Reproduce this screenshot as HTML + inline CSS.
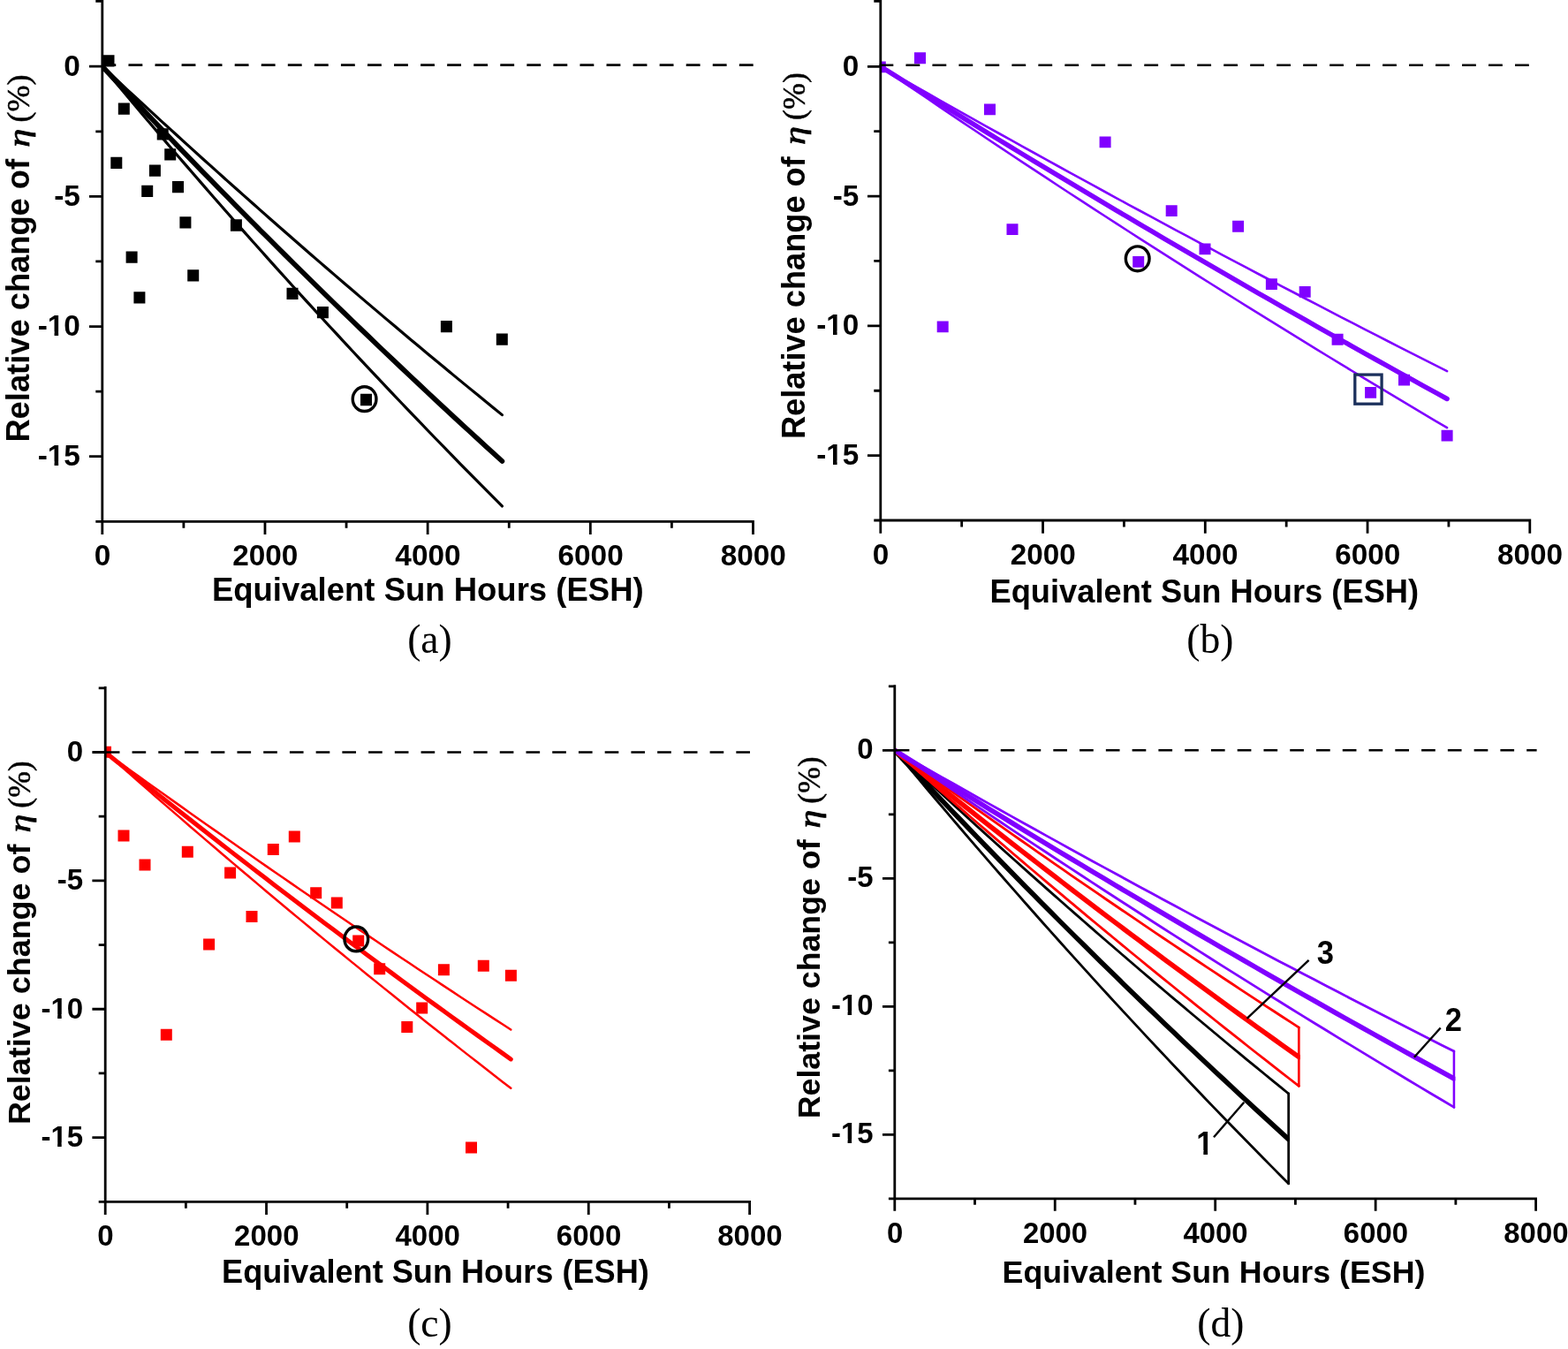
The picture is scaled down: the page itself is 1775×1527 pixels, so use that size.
<!DOCTYPE html>
<html lang="en"><head><meta charset="utf-8"><title>Relative change of efficiency vs Equivalent Sun Hours</title>
<style>
html,body{margin:0;padding:0;background:#fff;}
body{width:1775px;height:1527px;overflow:hidden;}
svg{display:block;position:absolute;left:0;top:0;}
.ax{stroke:#000;stroke-width:2.8;fill:none;stroke-linecap:butt}
.dash{stroke:#000;stroke-width:2.6;fill:none}
.tl{font-family:"Liberation Sans",sans-serif;font-weight:700;fill:#000}
.at{font-family:"Liberation Sans",sans-serif;font-weight:700;fill:#000}
.eta{font-family:"Liberation Serif",serif;font-style:italic;font-weight:400;font-size:38.5px;fill:#000;stroke:#000;stroke-width:0.9px}
.pct{font-family:"Liberation Serif",serif;font-style:normal;font-weight:400;font-size:36px;fill:#000;stroke:#000;stroke-width:0.5px}
.pl{font-family:"Liberation Serif",serif;font-size:45.6px;fill:#000}
.nl{font-family:"Liberation Sans",sans-serif;font-weight:700;fill:#000}
</style></head><body>
<svg width="1775" height="1527" viewBox="0 0 1775 1527">
<rect width="1775" height="1527" fill="#fff"/>
<g id="panel-a">
<clipPath id="clip-a"><rect x="115.8" y="-2" width="766.7" height="592.3"/></clipPath><g clip-path="url(#clip-a)">
<path d="M116.5 62.15h13v13.3h-13zM133.8 116.45h13v13.3h-13zM177.7 145.25h13v13.3h-13zM186.2 168.25h13v13.3h-13zM125.3 177.65h13v13.3h-13zM168.9 186.45h13v13.3h-13zM160.2 209.75h13v13.3h-13zM195 205.05h13v13.3h-13zM203.4 245.25h13v13.3h-13zM260.9 248.35h13v13.3h-13zM142.6 284.45h13v13.3h-13zM212.2 305.15h13v13.3h-13zM151.4 330.15h13v13.3h-13zM324.5 325.75h13v13.3h-13zM358.9 347.05h13v13.3h-13zM498.9 362.95h13v13.3h-13zM561.8 377.45h13v13.3h-13zM408 445.85h13v13.3h-13z" fill="#000"/>
<path d="M115.8 75.2L125.23 84.01L134.66 92.79L144.09 101.55L153.52 110.28L162.95 118.98L172.38 127.66L181.81 136.31L191.24 144.94L200.66 153.54L210.09 162.11L219.52 170.66L228.95 179.19L238.38 187.68L247.81 196.16L257.24 204.6L266.67 213.03L276.1 221.42L285.53 229.79L294.96 238.14L304.39 246.46L313.82 254.76L323.25 263.03L332.68 271.28L342.11 279.5L351.53 287.7L360.96 295.87L370.39 304.02L379.82 312.14L389.25 320.24L398.68 328.32L408.11 336.37L417.54 344.4L426.97 352.4L436.4 360.38L445.83 368.34L455.26 376.27L464.69 384.18L474.12 392.06L483.55 399.92L492.98 407.76L502.4 415.57L511.83 423.36L521.26 431.13L530.69 438.87L540.12 446.6L549.55 454.29L558.98 461.97L568.41 469.62" stroke="#000" stroke-width="3.2" fill="none" stroke-linecap="round" stroke-linejoin="round"/>
<path d="M115.8 75.2L125.23 86.54L134.66 97.83L144.09 109.08L153.52 120.29L162.95 131.45L172.38 142.57L181.81 153.65L191.24 164.69L200.66 175.68L210.09 186.63L219.52 197.54L228.95 208.41L238.38 219.23L247.81 230.01L257.24 240.75L266.67 251.45L276.1 262.11L285.53 272.73L294.96 283.31L304.39 293.84L313.82 304.34L323.25 314.79L332.68 325.21L342.11 335.58L351.53 345.92L360.96 356.21L370.39 366.47L379.82 376.68L389.25 386.86L398.68 397L408.11 407.1L417.54 417.16L426.97 427.18L436.4 437.16L445.83 447.1L455.26 457.01L464.69 466.87L474.12 476.7L483.55 486.49L492.98 496.25L502.4 505.96L511.83 515.64L521.26 525.28L530.69 534.89L540.12 544.45L549.55 553.98L558.98 563.48L568.41 572.93" stroke="#000" stroke-width="3.2" fill="none" stroke-linecap="round" stroke-linejoin="round"/>
<path d="M115.8 75.2L125.23 85.28L134.66 95.32L144.09 105.33L153.52 115.31L162.95 125.25L172.38 135.16L181.81 145.03L191.24 154.87L200.66 164.67L210.09 174.45L219.52 184.19L228.95 193.89L238.38 203.56L247.81 213.2L257.24 222.81L266.67 232.38L276.1 241.92L285.53 251.43L294.96 260.9L304.39 270.35L313.82 279.76L323.25 289.14L332.68 298.48L342.11 307.8L351.53 317.08L360.96 326.33L370.39 335.55L379.82 344.73L389.25 353.89L398.68 363.01L408.11 372.11L417.54 381.17L426.97 390.2L436.4 399.2L445.83 408.17L455.26 417.11L464.69 426.02L474.12 434.89L483.55 443.74L492.98 452.56L502.4 461.34L511.83 470.1L521.26 478.83L530.69 487.52L540.12 496.19L549.55 504.83L558.98 513.43L568.41 522.01" stroke="#000" stroke-width="5.7" fill="none" stroke-linecap="round" stroke-linejoin="round"/>
</g>
<path d="M115.4 73.6H853.5" class="dash" stroke-dasharray="15.84 14.22"/>
<path d="M115.8 0V590.3M108.3 590.3H853.9M101 75.2H115.8M101 222.37H115.8M101 369.54H115.8M101 516.71H115.8M108.3 1.3H117.2M108.3 148.79H115.8M108.3 295.96H115.8M108.3 443.13H115.8M115.8 590.3V605.1M299.98 590.3V605.1M484.15 590.3V605.1M668.32 590.3V605.1M852.5 590.3V605.1M207.89 590.3V597.8M392.06 590.3V597.8M576.24 590.3V597.8M760.41 590.3V597.8" class="ax"/>
<ellipse cx="412.6" cy="451.65" rx="13.35" ry="13.9" fill="none" stroke="#000" stroke-width="3.4"/>
<g>
<g transform="translate(116.1 640.1) scale(0.985 1)"><text x="0" y="0" class="tl" font-size="33.9" text-anchor="middle">0</text></g>
<g transform="translate(300.28 640.1) scale(0.985 1)"><text x="0" y="0" class="tl" font-size="33.9" text-anchor="middle">2000</text></g>
<g transform="translate(484.45 640.1) scale(0.985 1)"><text x="0" y="0" class="tl" font-size="33.9" text-anchor="middle">4000</text></g>
<g transform="translate(668.62 640.1) scale(0.985 1)"><text x="0" y="0" class="tl" font-size="33.9" text-anchor="middle">6000</text></g>
<g transform="translate(852.8 640.1) scale(0.985 1)"><text x="0" y="0" class="tl" font-size="33.9" text-anchor="middle">8000</text></g>
<g transform="translate(90.9 85.7) scale(0.985 1)"><text x="0" y="0" class="tl" font-size="33.9" text-anchor="end">0</text></g>
<g transform="translate(90.9 232.87) scale(0.985 1)"><text x="0" y="0" class="tl" font-size="33.9" text-anchor="end">-5</text></g>
<g transform="translate(90.9 380.04) scale(0.985 1)"><clipPath id="nofoot1"><path clip-rule="evenodd" d="M-69 -40.68H20V16.95H-69ZM-37.07 -4.66H-29.79V2H-37.07ZM-25.14 -4.66H-18.6V2H-25.14Z"/></clipPath><text x="0" y="0" class="tl" font-size="33.9" text-anchor="end" clip-path="url(#nofoot1)">-10</text></g>
<g transform="translate(90.9 527.21) scale(0.985 1)"><clipPath id="nofoot2"><path clip-rule="evenodd" d="M-69 -40.68H20V16.95H-69ZM-37.07 -4.66H-29.79V2H-37.07ZM-25.14 -4.66H-18.6V2H-25.14Z"/></clipPath><text x="0" y="0" class="tl" font-size="33.9" text-anchor="end" clip-path="url(#nofoot2)">-15</text></g>
</g>
<text x="484.3" y="679.6" class="at" font-size="36.5" text-anchor="middle">Equivalent Sun Hours (ESH)</text>
<g transform="translate(32.5 500.6) rotate(-90) scale(1.0000)"><text x="0" y="0" class="at" font-size="36.3">Relative change of</text><text transform="translate(333.8 0.1) scale(1.1 0.87)" class="eta">η</text><text x="362" y="0" class="pct">(%)</text></g>
<text x="486.5" y="738.5" class="pl" text-anchor="middle">(a)</text>
</g>
<g id="panel-b">
<clipPath id="clip-b"><rect x="996.8" y="-2" width="765" height="591"/></clipPath><g clip-path="url(#clip-b)">
<path d="M989.8 69.45h13v12.8h-13zM1035 59.35h13v12.8h-13zM1114 117.55h13v12.8h-13zM1244.6 154.55h13v12.8h-13zM1139.5 253.25h13v12.8h-13zM1319.7 232.25h13v12.8h-13zM1395.1 249.85h13v12.8h-13zM1357.5 275.55h13v12.8h-13zM1282.2 290.05h13v12.8h-13zM1432.9 315.15h13v12.8h-13zM1060.7 363.45h13v12.8h-13zM1470.7 323.95h13v12.8h-13zM1507.6 377.85h13v12.8h-13zM1583 423.75h13v12.8h-13zM1545.1 437.95h13v12.8h-13zM1631.6 486.65h13v12.8h-13z" fill="#8000ff"/>
<path d="M996.8 75.3L1010.16 82.93L1023.52 90.55L1036.88 98.14L1050.24 105.72L1063.6 113.27L1076.96 120.81L1090.32 128.32L1103.68 135.82L1117.04 143.3L1130.4 150.75L1143.76 158.19L1157.12 165.61L1170.48 173.01L1183.84 180.39L1197.2 187.75L1210.56 195.09L1223.92 202.42L1237.28 209.72L1250.64 217L1264 224.27L1277.36 231.52L1290.72 238.74L1304.08 245.95L1317.44 253.14L1330.8 260.32L1344.16 267.47L1357.52 274.6L1370.88 281.72L1384.24 288.82L1397.6 295.89L1410.96 302.96L1424.32 310L1437.69 317.02L1451.05 324.03L1464.41 331.01L1477.77 337.98L1491.13 344.93L1504.49 351.87L1517.85 358.78L1531.21 365.68L1544.57 372.56L1557.93 379.42L1571.29 386.26L1584.65 393.09L1598.01 399.9L1611.37 406.69L1624.73 413.46L1638.09 420.21" stroke="#8000ff" stroke-width="2.6" fill="none" stroke-linecap="round" stroke-linejoin="round"/>
<path d="M996.8 75.3L1010.16 84.46L1023.52 93.59L1036.88 102.69L1050.24 111.77L1063.6 120.81L1076.96 129.83L1090.32 138.82L1103.68 147.78L1117.04 156.71L1130.4 165.62L1143.76 174.5L1157.12 183.35L1170.48 192.17L1183.84 200.96L1197.2 209.73L1210.56 218.47L1223.92 227.18L1237.28 235.87L1250.64 244.53L1264 253.16L1277.36 261.76L1290.72 270.34L1304.08 278.89L1317.44 287.42L1330.8 295.91L1344.16 304.39L1357.52 312.83L1370.88 321.25L1384.24 329.64L1397.6 338.01L1410.96 346.35L1424.32 354.66L1437.69 362.95L1451.05 371.21L1464.41 379.45L1477.77 387.66L1491.13 395.84L1504.49 404L1517.85 412.13L1531.21 420.24L1544.57 428.33L1557.93 436.38L1571.29 444.42L1584.65 452.42L1598.01 460.41L1611.37 468.36L1624.73 476.3L1638.09 484.21" stroke="#8000ff" stroke-width="2.6" fill="none" stroke-linecap="round" stroke-linejoin="round"/>
<path d="M996.8 75.3L1010.16 83.67L1023.52 92.03L1036.88 100.35L1050.24 108.66L1063.6 116.94L1076.96 125.19L1090.32 133.42L1103.68 141.63L1117.04 149.82L1130.4 157.98L1143.76 166.12L1157.12 174.23L1170.48 182.33L1183.84 190.4L1197.2 198.44L1210.56 206.47L1223.92 214.47L1237.28 222.44L1250.64 230.4L1264 238.33L1277.36 246.24L1290.72 254.13L1304.08 261.99L1317.44 269.83L1330.8 277.65L1344.16 285.45L1357.52 293.23L1370.88 300.98L1384.24 308.71L1397.6 316.42L1410.96 324.1L1424.32 331.77L1437.69 339.41L1451.05 347.03L1464.41 354.63L1477.77 362.21L1491.13 369.77L1504.49 377.3L1517.85 384.81L1531.21 392.31L1544.57 399.78L1557.93 407.23L1571.29 414.65L1584.65 422.06L1598.01 429.45L1611.37 436.81L1624.73 444.15L1638.09 451.48" stroke="#8000ff" stroke-width="5.5" fill="none" stroke-linecap="round" stroke-linejoin="round"/>
</g>
<path d="M995.5 73.8H1732.8" class="dash" stroke-dasharray="15.8 14.18"/>
<path d="M996.8 0V589M989.3 589H1733.2M982 75.3H996.8M982 222.07H996.8M982 368.84H996.8M982 515.61H996.8M989.3 1.3H998.2M989.3 148.69H996.8M989.3 295.46H996.8M989.3 442.23H996.8M996.8 589V603.8M1180.55 589V603.8M1364.3 589V603.8M1548.05 589V603.8M1731.8 589V603.8M1088.67 589V596.5M1272.42 589V596.5M1456.17 589V596.5M1639.92 589V596.5" class="ax"/>
<ellipse cx="1287.7" cy="292.8" rx="13.35" ry="13.9" fill="none" stroke="#000" stroke-width="3.4"/>
<rect x="1533.8" y="424.1" width="30.3" height="33.1" fill="none" stroke="#1b305c" stroke-width="3.3"/>
<g>
<g transform="translate(997.1 639.1) scale(0.985 1)"><text x="0" y="0" class="tl" font-size="33.82" text-anchor="middle">0</text></g>
<g transform="translate(1180.85 639.1) scale(0.985 1)"><text x="0" y="0" class="tl" font-size="33.82" text-anchor="middle">2000</text></g>
<g transform="translate(1364.6 639.1) scale(0.985 1)"><text x="0" y="0" class="tl" font-size="33.82" text-anchor="middle">4000</text></g>
<g transform="translate(1548.35 639.1) scale(0.985 1)"><text x="0" y="0" class="tl" font-size="33.82" text-anchor="middle">6000</text></g>
<g transform="translate(1732.1 639.1) scale(0.985 1)"><text x="0" y="0" class="tl" font-size="33.82" text-anchor="middle">8000</text></g>
<g transform="translate(972.3 85.8) scale(0.985 1)"><text x="0" y="0" class="tl" font-size="33.82" text-anchor="end">0</text></g>
<g transform="translate(972.3 232.57) scale(0.985 1)"><text x="0" y="0" class="tl" font-size="33.82" text-anchor="end">-5</text></g>
<g transform="translate(972.3 379.34) scale(0.985 1)"><clipPath id="nofoot3"><path clip-rule="evenodd" d="M-68.88 -40.59H20V16.91H-68.88ZM-36.99 -4.65H-29.73V2H-36.99ZM-25.09 -4.65H-18.55V2H-25.09Z"/></clipPath><text x="0" y="0" class="tl" font-size="33.82" text-anchor="end" clip-path="url(#nofoot3)">-10</text></g>
<g transform="translate(972.3 526.11) scale(0.985 1)"><clipPath id="nofoot4"><path clip-rule="evenodd" d="M-68.88 -40.59H20V16.91H-68.88ZM-36.99 -4.65H-29.73V2H-36.99ZM-25.09 -4.65H-18.55V2H-25.09Z"/></clipPath><text x="0" y="0" class="tl" font-size="33.82" text-anchor="end" clip-path="url(#nofoot4)">-15</text></g>
</g>
<text x="1363.3" y="681.5" class="at" font-size="36.27" text-anchor="middle">Equivalent Sun Hours (ESH)</text>
<g transform="translate(910.6 497.1) rotate(-90) scale(0.9977)"><text x="0" y="0" class="at" font-size="36.3">Relative change of</text><text transform="translate(333.8 0.1) scale(1.1 0.87)" class="eta">η</text><text x="362" y="0" class="pct">(%)</text></g>
<text x="1369.9" y="738.5" class="pl" text-anchor="middle">(b)</text>
</g>
<g id="panel-c">
<clipPath id="clip-c"><rect x="119.2" y="775.1" width="759.4" height="585.2"/></clipPath><g clip-path="url(#clip-c)">
<path d="M113 844.8h13v13.0h-13zM133.5 939.4h13v13.0h-13zM157.5 972.6h13v13.0h-13zM205.8 957.7h13v13.0h-13zM254.1 981.4h13v13.0h-13zM230.1 1062.5h13v13.0h-13zM278.5 1031.1h13v13.0h-13zM302.8 955h13v13.0h-13zM326.8 940.5h13v13.0h-13zM351.2 1004.3h13v13.0h-13zM374.8 1015.5h13v13.0h-13zM399.2 1058.4h13v13.0h-13zM423.2 1090.2h13v13.0h-13zM495.9 1091.2h13v13.0h-13zM540.8 1086.8h13v13.0h-13zM571.9 1097.7h13v13.0h-13zM471.2 1134.5h13v13.0h-13zM454.3 1156h13v13.0h-13zM181.8 1164.8h13v13.0h-13zM527 1292.6h13v13.0h-13z" fill="#ff0000"/>
<path d="M119.2 851.5L128.76 858.41L138.33 865.31L147.89 872.19L157.46 879.06L167.02 885.91L176.58 892.74L186.15 899.56L195.71 906.36L205.27 913.14L214.84 919.91L224.4 926.66L233.97 933.4L243.53 940.12L253.09 946.82L262.66 953.51L272.22 960.18L281.79 966.84L291.35 973.48L300.91 980.1L310.48 986.71L320.04 993.3L329.61 999.88L339.17 1006.44L348.73 1012.99L358.3 1019.52L367.86 1026.03L377.42 1032.53L386.99 1039.01L396.55 1045.48L406.12 1051.94L415.68 1058.37L425.24 1064.8L434.81 1071.2L444.37 1077.6L453.94 1083.97L463.5 1090.33L473.06 1096.68L482.63 1103.01L492.19 1109.33L501.76 1115.63L511.32 1121.91L520.88 1128.19L530.45 1134.44L540.01 1140.68L549.57 1146.91L559.14 1153.12L568.7 1159.32L578.27 1165.5" stroke="#ff0000" stroke-width="2.5" fill="none" stroke-linecap="round" stroke-linejoin="round"/>
<path d="M119.2 851.5L128.76 859.98L138.33 868.43L147.89 876.86L157.46 885.27L167.02 893.65L176.58 902L186.15 910.33L195.71 918.64L205.27 926.92L214.84 935.18L224.4 943.42L233.97 951.63L243.53 959.81L253.09 967.98L262.66 976.12L272.22 984.23L281.79 992.32L291.35 1000.39L300.91 1008.44L310.48 1016.46L320.04 1024.45L329.61 1032.43L339.17 1040.38L348.73 1048.31L358.3 1056.21L367.86 1064.09L377.42 1071.95L386.99 1079.79L396.55 1087.6L406.12 1095.39L415.68 1103.16L425.24 1110.9L434.81 1118.63L444.37 1126.32L453.94 1134L463.5 1141.66L473.06 1149.29L482.63 1156.9L492.19 1164.49L501.76 1172.05L511.32 1179.6L520.88 1187.12L530.45 1194.62L540.01 1202.1L549.57 1209.55L559.14 1216.99L568.7 1224.4L578.27 1231.79" stroke="#ff0000" stroke-width="2.5" fill="none" stroke-linecap="round" stroke-linejoin="round"/>
<path d="M119.2 851.5L128.76 859.2L138.33 866.88L147.89 874.53L157.46 882.17L167.02 889.79L176.58 897.39L186.15 904.96L195.71 912.52L205.27 920.06L214.84 927.57L224.4 935.07L233.97 942.55L243.53 950.01L253.09 957.44L262.66 964.86L272.22 972.26L281.79 979.64L291.35 987L300.91 994.34L310.48 1001.66L320.04 1008.96L329.61 1016.24L339.17 1023.5L348.73 1030.74L358.3 1037.97L367.86 1045.17L377.42 1052.36L386.99 1059.52L396.55 1066.67L406.12 1073.8L415.68 1080.91L425.24 1088L434.81 1095.07L444.37 1102.13L453.94 1109.16L463.5 1116.18L473.06 1123.18L482.63 1130.16L492.19 1137.12L501.76 1144.06L511.32 1150.98L520.88 1157.89L530.45 1164.77L540.01 1171.64L549.57 1178.49L559.14 1185.33L568.7 1192.14L578.27 1198.94" stroke="#ff0000" stroke-width="5.0" fill="none" stroke-linecap="round" stroke-linejoin="round"/>
</g>
<path d="M119.8 851.5H849.6" class="dash" stroke-dasharray="15.67 14.06"/>
<path d="M119.2 777.1V1360.3M111.7 1360.3H850M104.4 851.5H119.2M104.4 996.87H119.2M104.4 1142.24H119.2M104.4 1287.61H119.2M111.7 778.81H120.6M111.7 924.19H119.2M111.7 1069.56H119.2M111.7 1214.93H119.2M119.2 1360.3V1375.1M301.55 1360.3V1375.1M483.9 1360.3V1375.1M666.25 1360.3V1375.1M848.6 1360.3V1375.1M210.38 1360.3V1367.8M392.72 1360.3V1367.8M575.07 1360.3V1367.8M757.42 1360.3V1367.8" class="ax"/>
<ellipse cx="403.3" cy="1062.9" rx="13.35" ry="13.9" fill="none" stroke="#000" stroke-width="3.4"/>
<g>
<g transform="translate(119.5 1410.1) scale(0.985 1)"><text x="0" y="0" class="tl" font-size="33.56" text-anchor="middle">0</text></g>
<g transform="translate(301.85 1410.1) scale(0.985 1)"><text x="0" y="0" class="tl" font-size="33.56" text-anchor="middle">2000</text></g>
<g transform="translate(484.2 1410.1) scale(0.985 1)"><text x="0" y="0" class="tl" font-size="33.56" text-anchor="middle">4000</text></g>
<g transform="translate(666.55 1410.1) scale(0.985 1)"><text x="0" y="0" class="tl" font-size="33.56" text-anchor="middle">6000</text></g>
<g transform="translate(848.9 1410.1) scale(0.985 1)"><text x="0" y="0" class="tl" font-size="33.56" text-anchor="middle">8000</text></g>
<g transform="translate(94.2 862) scale(0.985 1)"><text x="0" y="0" class="tl" font-size="33.56" text-anchor="end">0</text></g>
<g transform="translate(94.2 1007.37) scale(0.985 1)"><text x="0" y="0" class="tl" font-size="33.56" text-anchor="end">-5</text></g>
<g transform="translate(94.2 1152.74) scale(0.985 1)"><clipPath id="nofoot5"><path clip-rule="evenodd" d="M-68.51 -40.28H20V16.78H-68.51ZM-36.72 -4.63H-29.5V2H-36.72ZM-24.89 -4.63H-18.4V2H-24.89Z"/></clipPath><text x="0" y="0" class="tl" font-size="33.56" text-anchor="end" clip-path="url(#nofoot5)">-10</text></g>
<g transform="translate(94.2 1298.11) scale(0.985 1)"><clipPath id="nofoot6"><path clip-rule="evenodd" d="M-68.51 -40.28H20V16.78H-68.51ZM-36.72 -4.63H-29.5V2H-36.72ZM-24.89 -4.63H-18.4V2H-24.89Z"/></clipPath><text x="0" y="0" class="tl" font-size="33.56" text-anchor="end" clip-path="url(#nofoot6)">-15</text></g>
</g>
<text x="492.9" y="1452.2" class="at" font-size="36.14" text-anchor="middle">Equivalent Sun Hours (ESH)</text>
<g transform="translate(33.5 1273.1) rotate(-90) scale(0.9901)"><text x="0" y="0" class="at" font-size="36.3">Relative change of</text><text transform="translate(333.8 0.1) scale(1.1 0.87)" class="eta">η</text><text x="362" y="0" class="pct">(%)</text></g>
<text x="486.5" y="1512.8" class="pl" text-anchor="middle">(c)</text>
</g>
<g id="panel-d">
<clipPath id="clip-d0"><rect x="1012.8" y="775.3" width="447.31" height="581.6"/></clipPath>
<g clip-path="url(#clip-d0)">
<path d="M1012.8 849.3L1022.09 857.98L1031.38 866.64L1040.67 875.26L1049.96 883.87L1059.25 892.45L1068.54 901L1077.83 909.52L1087.12 918.02L1096.41 926.5L1105.7 934.95L1114.99 943.37L1124.28 951.77L1133.57 960.15L1142.86 968.5L1152.15 976.82L1161.44 985.12L1170.73 993.39L1180.02 1001.64L1189.31 1009.87L1198.6 1018.07L1207.89 1026.24L1217.18 1034.4L1226.47 1042.52L1235.76 1050.63L1245.05 1058.7L1254.34 1066.76L1263.63 1074.79L1272.92 1082.79L1282.21 1090.78L1291.5 1098.73L1300.79 1106.67L1310.08 1114.58L1319.37 1122.47L1328.66 1130.33L1337.95 1138.17L1347.24 1145.99L1356.52 1153.78L1365.81 1161.55L1375.1 1169.29L1384.39 1177.02L1393.68 1184.72L1402.97 1192.39L1412.26 1200.05L1421.55 1207.68L1430.84 1215.29L1440.13 1222.87L1449.42 1230.44L1458.71 1237.98" stroke="#000" stroke-width="2.8" fill="none" stroke-linecap="round" stroke-linejoin="round"/>
<path d="M1012.8 849.3L1022.09 860.47L1031.38 871.6L1040.67 882.69L1049.96 893.73L1059.25 904.73L1068.54 915.69L1077.83 926.61L1087.12 937.48L1096.41 948.32L1105.7 959.11L1114.99 969.86L1124.28 980.57L1133.57 991.23L1142.86 1001.86L1152.15 1012.44L1161.44 1022.99L1170.73 1033.49L1180.02 1043.96L1189.31 1054.38L1198.6 1064.76L1207.89 1075.1L1217.18 1085.41L1226.47 1095.67L1235.76 1105.89L1245.05 1116.08L1254.34 1126.22L1263.63 1136.33L1272.92 1146.39L1282.21 1156.42L1291.5 1166.41L1300.79 1176.36L1310.08 1186.28L1319.37 1196.15L1328.66 1205.99L1337.95 1215.79L1347.24 1225.55L1356.52 1235.27L1365.81 1244.96L1375.1 1254.6L1384.39 1264.22L1393.68 1273.79L1402.97 1283.33L1412.26 1292.83L1421.55 1302.29L1430.84 1311.72L1440.13 1321.11L1449.42 1330.47L1458.71 1339.79" stroke="#000" stroke-width="2.8" fill="none" stroke-linecap="round" stroke-linejoin="round"/>
<path d="M1012.8 849.3L1022.09 859.23L1031.38 869.13L1040.67 878.99L1049.96 888.82L1059.25 898.62L1068.54 908.38L1077.83 918.11L1087.12 927.81L1096.41 937.47L1105.7 947.1L1114.99 956.7L1124.28 966.26L1133.57 975.79L1142.86 985.29L1152.15 994.76L1161.44 1004.19L1170.73 1013.59L1180.02 1022.96L1189.31 1032.3L1198.6 1041.61L1207.89 1050.88L1217.18 1060.12L1226.47 1069.33L1235.76 1078.51L1245.05 1087.66L1254.34 1096.77L1263.63 1105.86L1272.92 1114.91L1282.21 1123.93L1291.5 1132.92L1300.79 1141.88L1310.08 1150.81L1319.37 1159.71L1328.66 1168.58L1337.95 1177.42L1347.24 1186.23L1356.52 1195.01L1365.81 1203.76L1375.1 1212.47L1384.39 1221.16L1393.68 1229.82L1402.97 1238.45L1412.26 1247.05L1421.55 1255.62L1430.84 1264.16L1440.13 1272.67L1449.42 1281.15L1458.71 1289.61" stroke="#000" stroke-width="5.6" fill="none" stroke-linecap="round" stroke-linejoin="round"/>
<path d="M1458.71 1237.98V1339.79" stroke="#000" stroke-width="2.8" fill="none" stroke-linecap="round"/>
</g>
<clipPath id="clip-d1"><rect x="1012.8" y="775.3" width="459.02" height="581.6"/></clipPath>
<g clip-path="url(#clip-d1)">
<path d="M1012.8 849.3L1022.33 856.21L1031.87 863.11L1041.4 869.98L1050.93 876.85L1060.47 883.69L1070 890.52L1079.54 897.33L1089.07 904.13L1098.6 910.91L1108.14 917.68L1117.67 924.42L1127.2 931.16L1136.74 937.87L1146.27 944.57L1155.81 951.26L1165.34 957.92L1174.87 964.58L1184.41 971.21L1193.94 977.83L1203.47 984.44L1213.01 991.03L1222.54 997.6L1232.07 1004.16L1241.61 1010.7L1251.14 1017.23L1260.68 1023.74L1270.21 1030.23L1279.74 1036.71L1289.28 1043.18L1298.81 1049.63L1308.34 1056.06L1317.88 1062.48L1327.41 1068.88L1336.95 1075.27L1346.48 1081.64L1356.01 1088L1365.55 1094.34L1375.08 1100.67L1384.61 1106.98L1394.15 1113.28L1403.68 1119.56L1413.21 1125.83L1422.75 1132.08L1432.28 1138.32L1441.82 1144.54L1451.35 1150.75L1460.88 1156.94L1470.42 1163.12" stroke="#ff0000" stroke-width="2.8" fill="none" stroke-linecap="round" stroke-linejoin="round"/>
<path d="M1012.8 849.3L1022.33 857.77L1031.87 866.22L1041.4 874.65L1050.93 883.05L1060.47 891.43L1070 899.78L1079.54 908.11L1089.07 916.41L1098.6 924.69L1108.14 932.94L1117.67 941.17L1127.2 949.38L1136.74 957.56L1146.27 965.72L1155.81 973.86L1165.34 981.97L1174.87 990.05L1184.41 998.12L1193.94 1006.16L1203.47 1014.17L1213.01 1022.17L1222.54 1030.14L1232.07 1038.08L1241.61 1046.01L1251.14 1053.91L1260.68 1061.78L1270.21 1069.64L1279.74 1077.47L1289.28 1085.28L1298.81 1093.06L1308.34 1100.82L1317.88 1108.56L1327.41 1116.28L1336.95 1123.98L1346.48 1131.65L1356.01 1139.3L1365.55 1146.93L1375.08 1154.53L1384.61 1162.11L1394.15 1169.68L1403.68 1177.21L1413.21 1184.73L1422.75 1192.23L1432.28 1199.7L1441.82 1207.15L1451.35 1214.58L1460.88 1221.99L1470.42 1229.37" stroke="#ff0000" stroke-width="2.8" fill="none" stroke-linecap="round" stroke-linejoin="round"/>
<path d="M1012.8 849.3L1022.33 856.99L1031.87 864.67L1041.4 872.32L1050.93 879.96L1060.47 887.57L1070 895.16L1079.54 902.74L1089.07 910.29L1098.6 917.82L1108.14 925.34L1117.67 932.83L1127.2 940.3L1136.74 947.76L1146.27 955.19L1155.81 962.6L1165.34 970L1174.87 977.37L1184.41 984.73L1193.94 992.06L1203.47 999.38L1213.01 1006.68L1222.54 1013.95L1232.07 1021.21L1241.61 1028.45L1251.14 1035.67L1260.68 1042.87L1270.21 1050.05L1279.74 1057.22L1289.28 1064.36L1298.81 1071.48L1308.34 1078.59L1317.88 1085.68L1327.41 1092.74L1336.95 1099.79L1346.48 1106.82L1356.01 1113.83L1365.55 1120.83L1375.08 1127.8L1384.61 1134.76L1394.15 1141.7L1403.68 1148.61L1413.21 1155.52L1422.75 1162.4L1432.28 1169.26L1441.82 1176.11L1451.35 1182.94L1460.88 1189.75L1470.42 1196.54" stroke="#ff0000" stroke-width="5.6" fill="none" stroke-linecap="round" stroke-linejoin="round"/>
<path d="M1470.42 1163.12V1229.37" stroke="#ff0000" stroke-width="2.8" fill="none" stroke-linecap="round"/>
</g>
<clipPath id="clip-d2"><rect x="1012.8" y="775.3" width="634.66" height="581.6"/></clipPath>
<g clip-path="url(#clip-d2)">
<path d="M1012.8 849.3L1025.99 856.84L1039.19 864.37L1052.38 871.87L1065.57 879.36L1078.76 886.82L1091.96 894.27L1105.15 901.69L1118.34 909.1L1131.54 916.49L1144.73 923.86L1157.92 931.21L1171.12 938.54L1184.31 945.85L1197.5 953.14L1210.69 960.42L1223.89 967.67L1237.08 974.91L1250.27 982.12L1263.47 989.32L1276.66 996.5L1289.85 1003.66L1303.04 1010.8L1316.24 1017.93L1329.43 1025.03L1342.62 1032.12L1355.82 1039.19L1369.01 1046.24L1382.2 1053.27L1395.39 1060.28L1408.59 1067.28L1421.78 1074.25L1434.97 1081.21L1448.17 1088.15L1461.36 1095.07L1474.55 1101.98L1487.75 1108.86L1500.94 1115.73L1514.13 1122.58L1527.32 1129.42L1540.52 1136.23L1553.71 1143.03L1566.9 1149.81L1580.1 1156.57L1593.29 1163.31L1606.48 1170.04L1619.67 1176.75L1632.87 1183.44L1646.06 1190.12" stroke="#8000ff" stroke-width="2.8" fill="none" stroke-linecap="round" stroke-linejoin="round"/>
<path d="M1012.8 849.3L1025.99 858.35L1039.19 867.37L1052.38 876.37L1065.57 885.33L1078.76 894.27L1091.96 903.18L1105.15 912.06L1118.34 920.92L1131.54 929.75L1144.73 938.55L1157.92 947.32L1171.12 956.06L1184.31 964.78L1197.5 973.47L1210.69 982.13L1223.89 990.77L1237.08 999.38L1250.27 1007.96L1263.47 1016.52L1276.66 1025.05L1289.85 1033.55L1303.04 1042.03L1316.24 1050.47L1329.43 1058.9L1342.62 1067.29L1355.82 1075.66L1369.01 1084.01L1382.2 1092.33L1395.39 1100.62L1408.59 1108.89L1421.78 1117.13L1434.97 1125.34L1448.17 1133.53L1461.36 1141.7L1474.55 1149.83L1487.75 1157.95L1500.94 1166.03L1514.13 1174.1L1527.32 1182.13L1540.52 1190.15L1553.71 1198.13L1566.9 1206.1L1580.1 1214.03L1593.29 1221.95L1606.48 1229.83L1619.67 1237.7L1632.87 1245.54L1646.06 1253.35" stroke="#8000ff" stroke-width="2.8" fill="none" stroke-linecap="round" stroke-linejoin="round"/>
<path d="M1012.8 849.3L1025.99 857.58L1039.19 865.83L1052.38 874.05L1065.57 882.26L1078.76 890.44L1091.96 898.6L1105.15 906.73L1118.34 914.84L1131.54 922.93L1144.73 931L1157.92 939.04L1171.12 947.06L1184.31 955.06L1197.5 963.03L1210.69 970.98L1223.89 978.91L1237.08 986.81L1250.27 994.7L1263.47 1002.56L1276.66 1010.39L1289.85 1018.21L1303.04 1026L1316.24 1033.77L1329.43 1041.52L1342.62 1049.25L1355.82 1056.96L1369.01 1064.64L1382.2 1072.3L1395.39 1079.94L1408.59 1087.55L1421.78 1095.15L1434.97 1102.72L1448.17 1110.28L1461.36 1117.81L1474.55 1125.32L1487.75 1132.8L1500.94 1140.27L1514.13 1147.72L1527.32 1155.14L1540.52 1162.54L1553.71 1169.92L1566.9 1177.28L1580.1 1184.62L1593.29 1191.94L1606.48 1199.24L1619.67 1206.52L1632.87 1213.77L1646.06 1221.01" stroke="#8000ff" stroke-width="5.6" fill="none" stroke-linecap="round" stroke-linejoin="round"/>
<path d="M1646.06 1190.12V1253.35" stroke="#8000ff" stroke-width="2.8" fill="none" stroke-linecap="round"/>
</g>
<path d="M1013.7 849.3H1739.6" class="dash" stroke-dasharray="15.69 14.08"/>
<path d="M1012.8 775.3V1356.9M1005.9 1356.9H1740M999 849.3H1012.8M999 994.33H1012.8M999 1139.36H1012.8M999 1284.39H1012.8M1005.9 776.79H1014.2M1005.9 921.81H1012.8M1005.9 1066.84H1012.8M1005.9 1211.87H1012.8M1012.8 1356.9V1370.7M1194.25 1356.9V1370.7M1375.7 1356.9V1370.7M1557.15 1356.9V1370.7M1738.6 1356.9V1370.7M1103.52 1356.9V1363.8M1284.97 1356.9V1363.8M1466.42 1356.9V1363.8M1647.88 1356.9V1363.8" class="ax"/>
<path d="M1411.6 1152.8L1481.6 1086.9M1600.9 1196.8L1630.7 1163.5M1408.3 1247.7L1374 1287.2" stroke="#000" stroke-width="2.4" fill="none"/>
<g transform="translate(1500.4 1091.0) scale(0.95 1)"><text x="0" y="0" class="nl" font-size="36.4" text-anchor="middle">3</text></g>
<g transform="translate(1645.4 1167.4) scale(0.95 1)"><text x="0" y="0" class="nl" font-size="36.4" text-anchor="middle">2</text></g>
<g transform="translate(1363.9 1307.0) scale(0.95 1)"><clipPath id="nofoot7"><path clip-rule="evenodd" d="M-30.12 -43.68H30.12V18.2H-30.12ZM-9.33 -4.91H-1.63V2H-9.33ZM3.37 -4.91H10.31V2H3.37Z"/></clipPath><text x="0" y="0" class="nl" font-size="36.4" text-anchor="middle" clip-path="url(#nofoot7)">1</text></g>
<g>
<g transform="translate(1013.1 1406.6) scale(0.985 1)"><text x="0" y="0" class="tl" font-size="33.4" text-anchor="middle">0</text></g>
<g transform="translate(1194.55 1406.6) scale(0.985 1)"><text x="0" y="0" class="tl" font-size="33.4" text-anchor="middle">2000</text></g>
<g transform="translate(1376 1406.6) scale(0.985 1)"><text x="0" y="0" class="tl" font-size="33.4" text-anchor="middle">4000</text></g>
<g transform="translate(1557.45 1406.6) scale(0.985 1)"><text x="0" y="0" class="tl" font-size="33.4" text-anchor="middle">6000</text></g>
<g transform="translate(1738.9 1406.6) scale(0.985 1)"><text x="0" y="0" class="tl" font-size="33.4" text-anchor="middle">8000</text></g>
<g transform="translate(988.5 858.9) scale(0.985 1)"><text x="0" y="0" class="tl" font-size="33.4" text-anchor="end">0</text></g>
<g transform="translate(988.5 1003.93) scale(0.985 1)"><text x="0" y="0" class="tl" font-size="33.4" text-anchor="end">-5</text></g>
<g transform="translate(988.5 1148.96) scale(0.985 1)"><clipPath id="nofoot8"><path clip-rule="evenodd" d="M-68.27 -40.08H20V16.7H-68.27ZM-36.55 -4.61H-29.35V2H-36.55ZM-24.77 -4.61H-18.3V2H-24.77Z"/></clipPath><text x="0" y="0" class="tl" font-size="33.4" text-anchor="end" clip-path="url(#nofoot8)">-10</text></g>
<g transform="translate(988.5 1293.99) scale(0.985 1)"><clipPath id="nofoot9"><path clip-rule="evenodd" d="M-68.27 -40.08H20V16.7H-68.27ZM-36.55 -4.61H-29.35V2H-36.55ZM-24.77 -4.61H-18.3V2H-24.77Z"/></clipPath><text x="0" y="0" class="tl" font-size="33.4" text-anchor="end" clip-path="url(#nofoot9)">-15</text></g>
</g>
<text x="1374" y="1452.4" class="at" font-size="35.78" text-anchor="middle">Equivalent Sun Hours (ESH)</text>
<g transform="translate(927.9 1266.3) rotate(-90) scale(0.9852)"><text x="0" y="0" class="at" font-size="36.3">Relative change of</text><text transform="translate(333.8 0.1) scale(1.1 0.87)" class="eta">η</text><text x="362" y="0" class="pct">(%)</text></g>
<text x="1381.8" y="1513.1" class="pl" text-anchor="middle">(d)</text>
</g>
</svg></body></html>
